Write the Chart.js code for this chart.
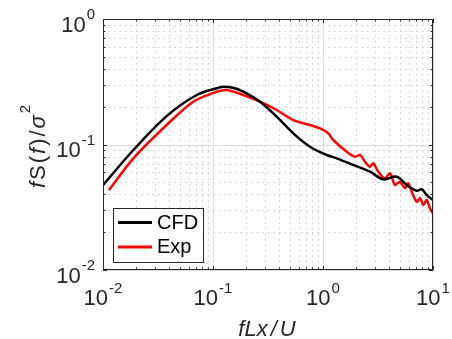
<!DOCTYPE html>
<html>
<head>
<meta charset="utf-8">
<script src="https://cdn.jsdelivr.net/npm/chart.js@4.4.1/dist/chart.umd.min.js"></script>
<style>
    html, body { margin: 0; padding: 0; background: #fff; }
    #wrap { width: 452px; height: 339px; position: relative; }
</style>
</head>
<body>
<div id="wrap"><canvas id="spectrum"></canvas></div>
<script>
// ======================================
// DATA
// ======================================
const cfdX = [0.01, 0.0189, 0.0379, 0.0711, 0.108, 0.124, 0.155, 0.1886, 0.2675, 0.3794, 0.537, 0.762,
              1.08, 1.332, 1.886, 2.675, 3.533, 4.677, 5.77, 7.11, 7.89, 8.76, 10];
const cfdY = [0.0475, 0.0904, 0.1684, 0.248, 0.2804, 0.2889, 0.282, 0.2634, 0.2193, 0.1665, 0.1228, 0.096,
              0.0825, 0.0776, 0.0687, 0.0607, 0.0528, 0.0554, 0.0476, 0.0428, 0.044, 0.0396, 0.0361];

const expX = [0.01134, 0.0189, 0.0379, 0.0662, 0.108, 0.1332, 0.1886, 0.2675, 0.3794, 0.537, 0.762, 0.939,
              1.117, 1.24, 1.643, 1.954, 2.17, 2.41, 2.675, 2.866, 3.183, 3.66, 4.066, 4.514, 5.01,
              5.566, 5.964, 6.404, 7.11, 7.62, 8.16, 8.76, 9.39, 10];
const expY = [0.0434, 0.0776, 0.143, 0.2193, 0.2634, 0.272, 0.248, 0.2193, 0.1883, 0.1567, 0.143, 0.1346,
              0.1228, 0.1086, 0.0876, 0.0799, 0.0825, 0.0729, 0.0665, 0.0708, 0.0607, 0.0538, 0.059, 0.0476, 0.0505,
              0.0448, 0.0491, 0.0421, 0.035, 0.0373, 0.033, 0.0361, 0.031, 0.0282];

const seriesLabels = ["CFD", "Exp"];
const seriesColors = ["#000000", "#ff0000"];

const xRange = [0.01, 10];
const yRange = [0.01, 1];
const xTickValues = [0.01, 0.1, 1, 10];
const xTickExp = ["-2", "-1", "0", "1"];
const yTickValues = [0.01, 0.1, 1];
const yTickExp = ["-2", "-1", "0"];

// ======================================
// HELPERS
// ======================================
const FONT = '"Liberation Sans", Arial, Helvetica, sans-serif';
const AXIS_COL = "#262626";

const toPoints = (xs, ys) => xs.map((v, i) => ({ x: v, y: ys[i] }));

// 1..9 x 10^k inside the range, with decades flagged as major
function logTicks(min, max) {
    const out = [];
    const e0 = Math.round(Math.log10(min));
    const e1 = Math.round(Math.log10(max));
    for (let e = e0; e < e1; e++) {
        for (let m = 1; m <= 9; m++) out.push({ v: m * Math.pow(10, e), major: m === 1 });
    }
    out.push({ v: max, major: true });
    return out;
}

// "10" with a raised exponent
function drawPower(ctx, exp, x, y, align, rise) {
    ctx.font = "22px " + FONT;
    const wb = ctx.measureText("10").width;
    ctx.font = "15px " + FONT;
    const we = ctx.measureText(exp).width;
    const w = wb + we + 1;
    let x0 = x;
    if (align === "center") x0 = x - w / 2;
    if (align === "right") x0 = x - w;
    ctx.textAlign = "left";
    ctx.font = "22px " + FONT;
    ctx.fillText("10", x0, y);
    ctx.font = "15px " + FONT;
    ctx.fillText(exp, x0 + wb + 1, y - rise);
}

// pieces: [text, italic] drawn one after another with a small gap
function drawPieces(ctx, pieces, x0, y, size, gap) {
    let x = x0;
    pieces.forEach(([txt, it]) => {
        ctx.font = (it ? "italic " : "") + size + "px " + FONT;
        ctx.fillText(txt, x, y);
        x += ctx.measureText(txt).width + gap;
    });
    return x;
}
function piecesWidth(ctx, pieces, size, gap) {
    let w = 0;
    pieces.forEach(([txt, it]) => {
        ctx.font = (it ? "italic " : "") + size + "px " + FONT;
        w += ctx.measureText(txt).width + gap;
    });
    return w - gap;
}

// ======================================
// MATLAB-STYLE AXES PLUGIN
// ======================================
const matlabAxes = {
    id: "matlabAxes",
    beforeDatasetsDraw(chart) {
        const { ctx, chartArea: a, scales: { x, y } } = chart;
        ctx.save();
        ctx.lineWidth = 1;
        const xt = logTicks(xRange[0], xRange[1]);
        const yt = logTicks(yRange[0], yRange[1]);
        // minor dotted grid first
        ctx.setLineDash([1.5, 4]);
        ctx.strokeStyle = "#cfcfcf";
        xt.filter(t => !t.major).forEach(t => {
            const px = Math.round(x.getPixelForValue(t.v)) + 0.5;
            ctx.beginPath(); ctx.moveTo(px, a.top); ctx.lineTo(px, a.bottom); ctx.stroke();
        });
        yt.filter(t => !t.major).forEach(t => {
            const py = Math.round(y.getPixelForValue(t.v)) + 0.5;
            ctx.beginPath(); ctx.moveTo(a.left, py); ctx.lineTo(a.right, py); ctx.stroke();
        });
        // major solid grid
        ctx.setLineDash([]);
        ctx.strokeStyle = "#dddddd";
        xt.filter(t => t.major).forEach(t => {
            const px = Math.round(x.getPixelForValue(t.v)) + 0.5;
            ctx.beginPath(); ctx.moveTo(px, a.top); ctx.lineTo(px, a.bottom); ctx.stroke();
        });
        yt.filter(t => t.major).forEach(t => {
            const py = Math.round(y.getPixelForValue(t.v)) + 0.5;
            ctx.beginPath(); ctx.moveTo(a.left, py); ctx.lineTo(a.right, py); ctx.stroke();
        });
        ctx.restore();
    },
    afterDatasetsDraw(chart) {
        const { ctx, chartArea: a, scales: { x, y } } = chart;
        ctx.save();

        // box
        ctx.strokeStyle = AXIS_COL;
        ctx.lineWidth = 1;
        ctx.strokeRect(a.left + 0.5, a.top + 0.5, a.width - 1, a.height - 1);

        // inward ticks on all four sides
        logTicks(xRange[0], xRange[1]).forEach(t => {
            const px = Math.round(x.getPixelForValue(t.v)) + 0.5;
            const len = t.major ? 4 : 2.5;
            ctx.beginPath();
            ctx.moveTo(px, a.bottom); ctx.lineTo(px, a.bottom - len);
            ctx.moveTo(px, a.top); ctx.lineTo(px, a.top + len);
            ctx.stroke();
        });
        logTicks(yRange[0], yRange[1]).forEach(t => {
            const py = Math.round(y.getPixelForValue(t.v)) + 0.5;
            const len = t.major ? 4 : 2.5;
            ctx.beginPath();
            ctx.moveTo(a.left, py); ctx.lineTo(a.left + len, py);
            ctx.moveTo(a.right, py); ctx.lineTo(a.right - len, py);
            ctx.stroke();
        });

        // tick labels
        ctx.fillStyle = AXIS_COL;
        ctx.textBaseline = "alphabetic";
        xTickValues.forEach((v, i) => {
            drawPower(ctx, xTickExp[i], x.getPixelForValue(v), a.bottom + 35, "center", 12);
        });
        yTickValues.forEach((v, i) => {
            drawPower(ctx, yTickExp[i], a.left - 8, y.getPixelForValue(v) + 12.5, "right", 12.5);
        });

        // x title: fLx/U
        const xPieces = [["fLx", true], ["/", true], ["U", true]];
        const xw = piecesWidth(ctx, xPieces, 22, 3);
        drawPieces(ctx, xPieces, (a.left + a.right) / 2 - xw / 2 - 1, 336, 22, 3);

        // y title: fS(f)/sigma^2, rotated
        const yPieces = [["f", true], ["S", false], ["(", false], ["f", true], [")", false], ["/", false], ["\u03C3", true]];
        ctx.font = "15px " + FONT;
        const yw = piecesWidth(ctx, yPieces, 22, 2) + 2 + ctx.measureText("2").width;
        ctx.save();
        ctx.translate(45, (a.top + a.bottom) / 2);
        ctx.rotate(-Math.PI / 2);
        const endX = drawPieces(ctx, yPieces, -yw / 2, 0, 22, 2);
        ctx.font = "15px " + FONT;
        ctx.fillText("2", endX, -15);
        ctx.restore();

        // legend box
        const lg = { x: 113.5, y: 208.5, w: 90, h: 54 };
        ctx.fillStyle = "#ffffff";
        ctx.fillRect(lg.x, lg.y, lg.w, lg.h);
        ctx.strokeStyle = AXIS_COL;
        ctx.lineWidth = 1;
        ctx.strokeRect(lg.x, lg.y, lg.w, lg.h);
        chart.data.datasets.forEach((ds, i) => {
            const base = 228.5 + i * 24.5;
            ctx.strokeStyle = ds.borderColor;
            ctx.lineWidth = 3;
            ctx.beginPath();
            ctx.moveTo(118, base - 6);
            ctx.lineTo(152, base - 6);
            ctx.stroke();
            ctx.fillStyle = "#000";
            ctx.font = "20px " + FONT;
            ctx.textAlign = "left";
            ctx.fillText(ds.label, 157, base);
        });

        ctx.restore();
    }
};

// ======================================
// CHART INIT
// ======================================
const chart = new Chart(document.getElementById("spectrum"), {
    type: "line",
    data: {
        datasets: [
            {
                label: seriesLabels[0],
                data: toPoints(cfdX, cfdY),
                borderColor: seriesColors[0],
                borderWidth: 2.5,
                tension: 0.35,
                pointRadius: 0,
                fill: false
            },
            {
                label: seriesLabels[1],
                data: toPoints(expX, expY),
                borderColor: seriesColors[1],
                borderWidth: 2.5,
                tension: 0.3,
                pointRadius: 0,
                fill: false
            }
        ]
    },
    options: {
        responsive: true,
        maintainAspectRatio: false,
        animation: false,
        layout: { padding: { left: 103, top: 19, right: 19, bottom: 69 } },
        plugins: { legend: { display: false }, tooltip: { enabled: false } },
        scales: {
            x: { type: "logarithmic", min: xRange[0], max: xRange[1], display: false },
            y: { type: "logarithmic", min: yRange[0], max: yRange[1], display: false }
        }
    },
    plugins: [matlabAxes]
});
</script>
</body>
</html>
